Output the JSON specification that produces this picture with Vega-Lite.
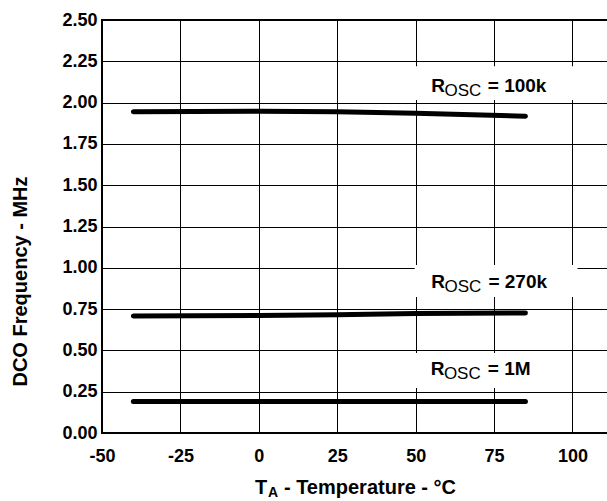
{
  "$schema": "https://vega.github.io/schema/vega-lite/v6.json",
  "width": 510,
  "height": 413,
  "autosize": {"type": "none"},
  "padding": {"left": 102, "top": 20, "right": 0, "bottom": 68},
  "background": "white",
  "config": {
    "font": "Liberation Sans",
    "view": {"stroke": "black", "strokeWidth": 2},
    "axis": {
      "grid": true,
      "gridColor": "black",
      "gridOpacity": 1,
      "gridWidth": 1,
      "ticks": false,
      "domain": false,
      "labelFont": "Liberation Sans",
      "labelFontSize": 18,
      "labelFontWeight": "bold",
      "labelColor": "black",
      "titleFont": "Liberation Sans",
      "titleColor": "black"
    }
  },
  "datasets": {
    "curves": [
      {"rosc": "100k", "temp": -40, "freq": 1.945},
      {"rosc": "100k", "temp": 0, "freq": 1.948},
      {"rosc": "100k", "temp": 25, "freq": 1.945},
      {"rosc": "100k", "temp": 50, "freq": 1.935},
      {"rosc": "100k", "temp": 85, "freq": 1.918},
      {"rosc": "270k", "temp": -40, "freq": 0.708},
      {"rosc": "270k", "temp": 0, "freq": 0.712},
      {"rosc": "270k", "temp": 25, "freq": 0.716},
      {"rosc": "270k", "temp": 50, "freq": 0.724},
      {"rosc": "270k", "temp": 85, "freq": 0.727},
      {"rosc": "1M", "temp": -40, "freq": 0.19},
      {"rosc": "1M", "temp": 0, "freq": 0.19},
      {"rosc": "1M", "temp": 50, "freq": 0.19},
      {"rosc": "1M", "temp": 85, "freq": 0.19}
    ],
    "labelBoxes": [
      {"rosc": "100k", "t0": 49.7, "t1": 101.6, "f0": 2.016, "f1": 2.22},
      {"rosc": "270k", "t0": 49.7, "t1": 101.6, "f0": 0.823, "f1": 1.017},
      {"rosc": "1M", "t0": 49.7, "t1": 89.6, "f0": 0.272, "f1": 0.484}
    ],
    "labelMain": [
      {"temp": 55.0, "freq": 2.062, "text": "R"},
      {"temp": 73.0, "freq": 2.062, "text": "=  100k"},
      {"temp": 55.0, "freq": 0.876, "text": "R"},
      {"temp": 73.2, "freq": 0.876, "text": "=  270k"},
      {"temp": 54.8, "freq": 0.351, "text": "R"},
      {"temp": 73.0, "freq": 0.351, "text": "=  1M"}
    ],
    "labelSub": [
      {"temp": 59.2, "freq": 2.062, "text": "OSC"},
      {"temp": 59.2, "freq": 0.876, "text": "OSC"},
      {"temp": 59.0, "freq": 0.351, "text": "OSC"}
    ],
    "xTitleMain": [
      {"temp": -1.2, "freq": -0.369, "text": "T"},
      {"temp": 8.0, "freq": -0.369, "text": "-  Temperature  -  °C"}
    ],
    "xTitleSub": [
      {"temp": 2.9, "freq": -0.369, "text": "A"}
    ]
  },
  "layer": [
    {
      "data": {"name": "curves"},
      "mark": {"type": "line", "color": "black", "strokeWidth": 5, "strokeCap": "round", "strokeJoin": "round"},
      "encoding": {
        "x": {
          "field": "temp",
          "type": "quantitative",
          "scale": {"domain": [-50, 112.6], "nice": false, "zero": false},
          "axis": {
            "values": [-50, -25, 0, 25, 50, 75, 100],
            "labelExpr": "toString(datum.value)",
            "title": null,
            "labelPadding": 14,
            "labelAlign": "center"
          }
        },
        "y": {
          "field": "freq",
          "type": "quantitative",
          "scale": {"domain": [0, 2.5], "nice": false, "zero": false},
          "axis": {
            "values": [0, 0.25, 0.5, 0.75, 1, 1.25, 1.5, 1.75, 2, 2.25, 2.5],
            "format": ".2f",
            "labelPadding": 5,
            "title": "DCO Frequency  -  MHz",
            "titleFontSize": 20,
            "titleFontWeight": "bold",
            "titleAngle": 270,
            "titleAlign": "center",
            "titleBaseline": "middle",
            "titleX": -82,
            "titleY": 261
          }
        },
        "detail": {"field": "rosc"}
      }
    },
    {
      "data": {"name": "labelBoxes"},
      "mark": {"type": "rect", "color": "white", "opacity": 1},
      "encoding": {
        "x": {"field": "t0", "type": "quantitative"},
        "x2": {"field": "t1"},
        "y": {"field": "f0", "type": "quantitative"},
        "y2": {"field": "f1"}
      }
    },
    {
      "data": {"name": "labelMain"},
      "mark": {"type": "text", "align": "left", "baseline": "alphabetic", "fontSize": 19, "fontWeight": "bold", "color": "black"},
      "encoding": {
        "x": {"field": "temp", "type": "quantitative"},
        "y": {"field": "freq", "type": "quantitative"},
        "text": {"field": "text"}
      }
    },
    {
      "data": {"name": "labelSub"},
      "mark": {"type": "text", "align": "left", "baseline": "alphabetic", "fontSize": 17, "fontWeight": "normal", "dy": 4, "color": "black"},
      "encoding": {
        "x": {"field": "temp", "type": "quantitative"},
        "y": {"field": "freq", "type": "quantitative"},
        "text": {"field": "text"}
      }
    },
    {
      "data": {"name": "xTitleMain"},
      "mark": {"type": "text", "align": "left", "baseline": "alphabetic", "fontSize": 20, "fontWeight": "bold", "color": "black"},
      "encoding": {
        "x": {"field": "temp", "type": "quantitative"},
        "y": {"field": "freq", "type": "quantitative"},
        "text": {"field": "text"}
      }
    },
    {
      "data": {"name": "xTitleSub"},
      "mark": {"type": "text", "align": "left", "baseline": "alphabetic", "fontSize": 14, "fontWeight": "bold", "dy": 3, "color": "black"},
      "encoding": {
        "x": {"field": "temp", "type": "quantitative"},
        "y": {"field": "freq", "type": "quantitative"},
        "text": {"field": "text"}
      }
    }
  ]
}
